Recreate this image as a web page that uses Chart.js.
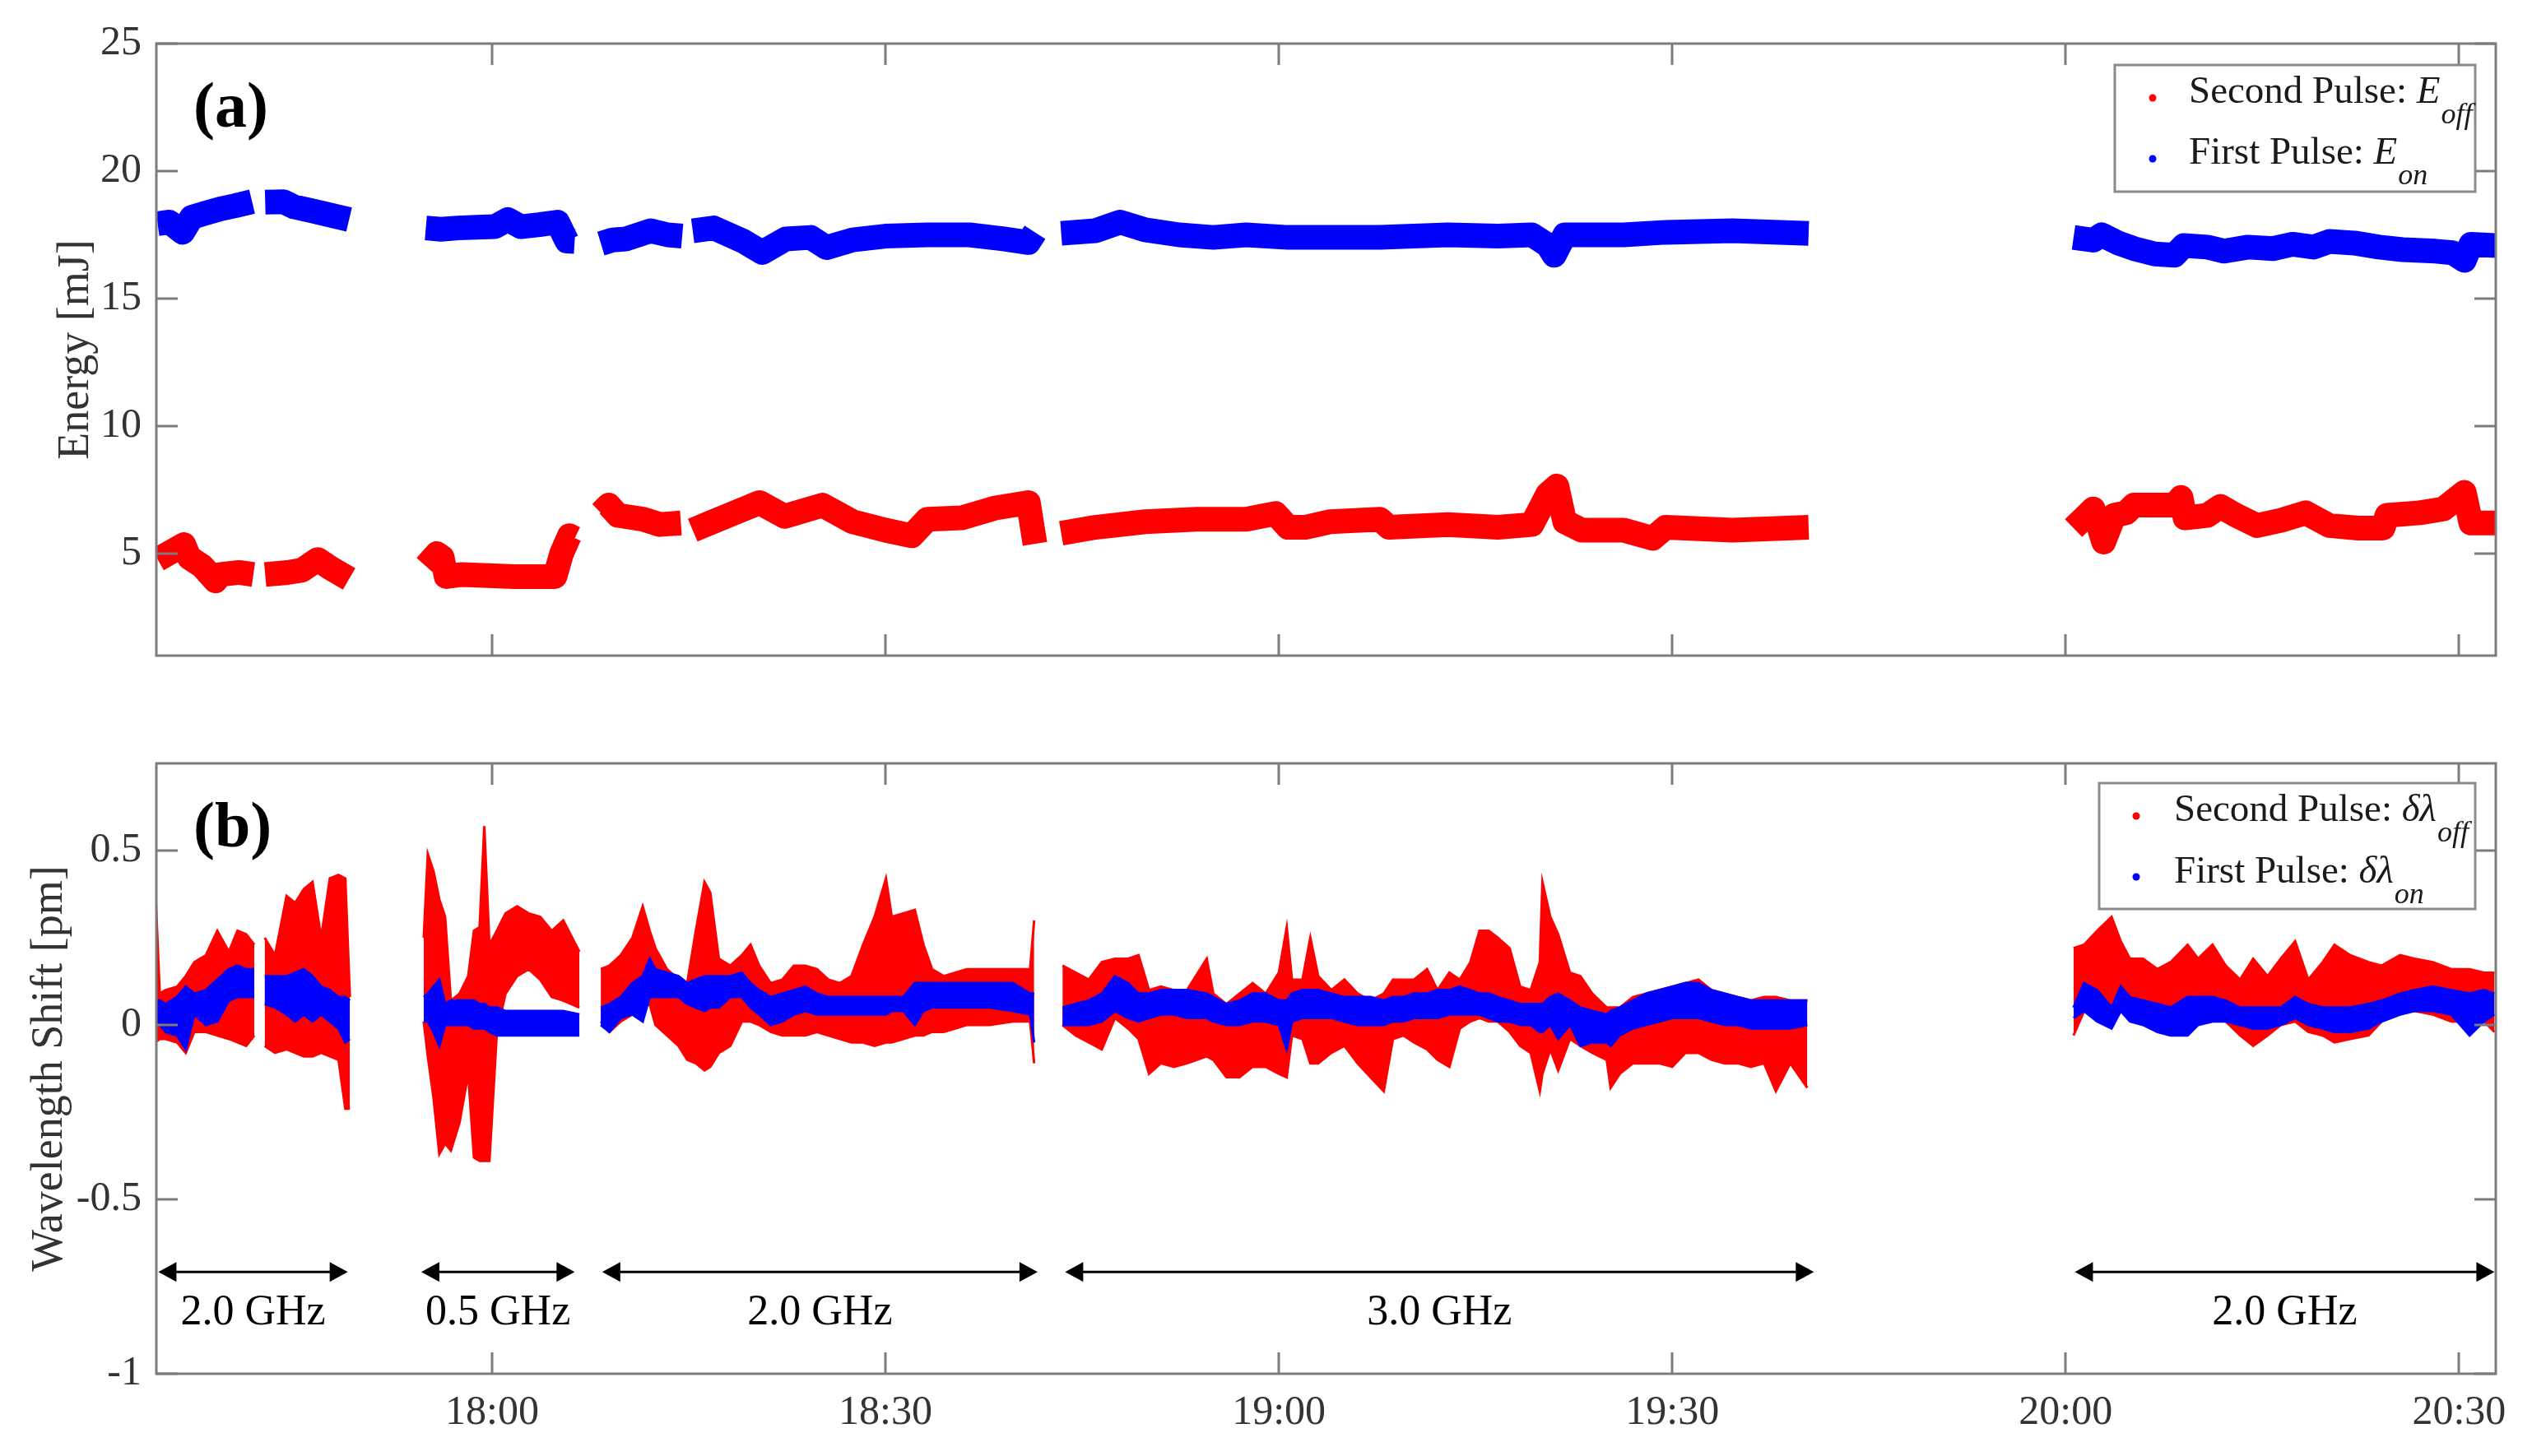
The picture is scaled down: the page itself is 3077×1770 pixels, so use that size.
<!DOCTYPE html>
<html>
<head>
<meta charset="utf-8">
<script src="https://cdn.jsdelivr.net/npm/chart.js@4/dist/chart.umd.min.js"></script>
<style>
  html, body { margin: 0; padding: 0; background: #fff; }
  #wrap { position: relative; width: 3077px; height: 1770px; }
  #energy { position: absolute; left: 0; top: 0; }
  #shift { position: absolute; left: 0; top: 860px; }
</style>
</head>
<body>
<div id="wrap">
  <canvas id="energy" width="3077" height="860"></canvas>
  <canvas id="shift" width="3077" height="910"></canvas>
</div>
<script>
// time axis in minutes after midnight (18:00 = 1080)
const timeMin = 1054.4;
const timeMax = 1232.8;
const timeTicks = [1080, 1110, 1140, 1170, 1200, 1230];
const energyTicks = [5, 10, 15, 20, 25];
const shiftTicks = [-1, -0.5, 0, 0.5];

// panel (a): pulse energy, null = gap between runs
const offEnergyTime = [
  1054.5, 1055.9, 1056.5, 1056.9, 1057.9, 1058.9, 1059.3, 1060.7, 1061.8, 1062.2,
  1062.7, 1064.4, 1065.5, 1066.7, 1067.7, 1069.1, 1072,
  1074.95, 1075.8, 1076.2, 1076.5, 1077.7, 1081.7, 1084.8, 1085.3, 1085.9, 1086.3, 1087.3,
  1088.3, 1088.9, 1089.6, 1091.5, 1092.8, 1094.4, 1094.75,
  1095.3, 1096.6, 1098.5, 1100.4, 1102.3, 1105.2, 1107.5, 1110.0, 1112.0, 1113.2, 1115.8, 1118.3, 1120.9, 1121.4, 1122.4,
  1123.4, 1126.0, 1129.8, 1133.7, 1137.5, 1139.75, 1140.7, 1142.0, 1143.9, 1147.7, 1148.4, 1152.9, 1156.7, 1159.3,
  1160.5, 1161.2, 1161.8, 1163.1, 1166.3, 1168.5, 1169.5, 1174.6, 1180.4, 1190,
  1200.6, 1201.2, 1202.1, 1202.9, 1203.7, 1204.6, 1205.2, 1208.3, 1208.8, 1209.1, 1210.8, 1211.8, 1213.0,
  1214.6, 1216.4, 1218.3, 1220.1, 1222.3, 1224.2, 1224.5, 1227.0, 1228.8, 1230.4, 1230.9, 1232.9
];
const offEnergy = [
  4.77, 5.18, 5.35, 4.85, 4.51, 3.93, 4.18, 4.26, 4.18, null,
  4.18, 4.26, 4.35, 4.77, 4.43, 4.01, null,
  4.51, 5.0, 4.85, 4.1, 4.18, 4.1, 4.1, 5.0, 5.7, 5.6, null,
  6.6, 6.9, 6.5, 6.35, 6.14, 6.2, null,
  5.92, 6.2, 6.6, 7.0, 6.46, 6.9, 6.25, 5.92, 5.7, 6.35, 6.4, 6.78, 7.0, 5.38, null,
  5.8, 6.03, 6.25, 6.35, 6.35, 6.57, 6.03, 6.03, 6.25, 6.35, 6.03, 6.14, 6.03, 6.14,
  7.33, 7.65, 6.25, 5.92, 5.92, 5.6, 6.03, 5.92, 6.03, null,
  6.0, 6.3, 6.75, 5.45, 6.5, 6.6, 6.9, 6.9, 7.2, 6.4, 6.5, 6.85, 6.5,
  6.1, 6.3, 6.6, 6.1, 6.0, 6.0, 6.5, 6.6, 6.75, 7.4, 6.2, 6.2
];
const onEnergyTime = [
  1054.5, 1055.4, 1056.4, 1057.1, 1058.2, 1059.3, 1060.4, 1061.7, 1062.2,
  1062.7, 1064.1, 1064.9, 1066.3, 1067.7, 1069.1, 1072,
  1074.95, 1076.1, 1077.4, 1078.8, 1080.2, 1081.2, 1082.2, 1083.6, 1085.0, 1085.7, 1086.3, 1087.3,
  1088.3, 1089.2, 1090.2, 1092.1, 1093.4, 1094.5, 1094.8,
  1095.3, 1096.9, 1099.2, 1100.6, 1102.4, 1104.3, 1105.5, 1107.5, 1110.0, 1113.2, 1116.4, 1119.0, 1120.9, 1121.4, 1122.4,
  1123.4, 1126.0, 1127.9, 1129.8, 1132.4, 1135.0, 1137.5, 1140.7, 1143.9, 1147.7, 1152.9, 1156.7, 1159.3,
  1160.5, 1161.0, 1161.8, 1166.3, 1169.5, 1174.6, 1180.4, 1190,
  1200.6, 1202.1, 1202.75, 1204.0, 1205.2, 1206.8, 1208.3, 1209.0, 1210.8, 1212.1, 1213.9, 1215.8,
  1217.3, 1218.9, 1220.1, 1222.0, 1223.9, 1225.7, 1228.2, 1229.5, 1230.4, 1230.9, 1232.9
];
const onEnergy = [
  17.94, 18.0, 17.6, 18.19, 18.36, 18.52, 18.64, 18.8, null,
  18.78, 18.8, 18.6, 18.44, 18.27, 18.1, null,
  17.77, 17.72, 17.77, 17.8, 17.82, 18.1, 17.82, 17.9, 18.0, 17.26, 17.24, null,
  17.16, 17.3, 17.34, 17.66, 17.5, 17.45, null,
  17.66, 17.77, 17.24, 16.81, 17.34, 17.4, 17.0, 17.3, 17.45, 17.5, 17.5, 17.34, 17.2, 17.6, null,
  17.56, 17.66, 18.0, 17.7, 17.5, 17.4, 17.5, 17.4, 17.4, 17.4, 17.5, 17.45, 17.5,
  17.1, 16.7, 17.5, 17.5, 17.6, 17.66, 17.56, null,
  17.4, 17.29, 17.5, 17.18, 16.96, 16.75, 16.7, 17.08, 17.02, 16.86, 17.02, 16.96,
  17.13, 17.02, 17.24, 17.18, 17.02, 16.92, 16.86, 16.8, 16.5, 17.13, 17.08
];

// panel (b): wavelength shift, lower / upper edge of each scatter band
const shiftTime = [
  1054.31, 1054.66, 1055.10, 1055.98, 1056.64, 1057.30, 1058.18, 1059.05, 1059.93, 1060.59, 1061.25, 1061.87, 1062.2,
  1062.66, 1063.45, 1064.33, 1064.99, 1065.65, 1066.31, 1066.97, 1067.63, 1068.29, 1068.81, 1069.16, 1072,
  1074.79, 1075.10, 1075.54, 1075.98, 1076.42, 1076.86, 1077.52, 1078.18, 1078.62, 1079.05, 1079.41, 1079.80,
  1080.37, 1081.03, 1081.91, 1082.79, 1083.67, 1084.55, 1085.43, 1086.66, 1087.3,
  1088.29, 1088.95, 1089.82, 1090.70, 1091.49, 1092.02, 1092.46, 1093.34, 1094.22, 1094.88, 1095.54, 1096.20,
  1096.64, 1097.30, 1098.17, 1099.05, 1099.71, 1100.37, 1101.25, 1102.13, 1103.01, 1103.89, 1104.77, 1105.65,
  1106.53, 1107.41, 1108.29, 1109.17, 1110.04, 1110.48, 1111.36, 1112.24, 1112.90, 1113.56, 1114.44, 1116.20,
  1117.96, 1119.71, 1121.03, 1121.34, 1122.4,
  1123.5, 1124.5, 1125.5, 1126.5, 1127.5, 1128.5, 1129.3, 1130.1, 1131, 1132, 1133, 1134.5, 1135, 1136, 1137,
  1138, 1139, 1140, 1140.6, 1141, 1141.8, 1142.4, 1143, 1144, 1145, 1146, 1147, 1148, 1148.7, 1149.5, 1150.3,
  1151.3, 1152.1, 1153, 1153.8, 1154.6, 1155.3, 1156, 1156.7, 1157.6, 1158.4, 1159.2, 1159.9, 1160.1, 1160.7,
  1161.3, 1162.2, 1163, 1163.9, 1165, 1165.3, 1166, 1167, 1168, 1169, 1170, 1171, 1172, 1173, 1174, 1175,
  1176, 1177, 1177.9, 1179, 1180.3, 1190,
  1200.6, 1201.4, 1202.4, 1203.5, 1204.2, 1204.9, 1205.9, 1207.0, 1208.0, 1209.3, 1210.1, 1211.2, 1212.2,
  1213.3, 1214.3, 1215.4, 1216.4, 1217.5, 1218.5, 1219.6, 1220.5, 1221.7, 1223.1, 1224.1, 1225.5, 1226.6,
  1228.0, 1229.4, 1230.8, 1231.9, 1232.7
];
const offShiftLow = [
  -0.05, -0.04, -0.04, -0.05, -0.08, -0.02, -0.02, -0.03, -0.04, -0.05, -0.06, -0.03, null,
  -0.06, -0.08, -0.07, -0.08, -0.09, -0.09, -0.08, -0.09, -0.10, -0.24, -0.24, null,
  0.01, -0.09, -0.21, -0.37, -0.34, -0.36, -0.28, -0.14, -0.38, -0.39, -0.39, -0.39,
  -0.02, 0.09, 0.14, 0.16, 0.13, 0.08, 0.07, 0.05, null,
  0.01, -0.02, 0.01, 0.03, 0.05, 0.06, 0.0, -0.03, -0.06, -0.10, -0.11, -0.13,
  -0.12, -0.08, -0.06, 0.01, 0.01, 0.0, -0.02, -0.03, -0.03, -0.03, -0.02, -0.03,
  -0.04, -0.05, -0.05, -0.06, -0.05, -0.05, -0.04, -0.03, -0.03, -0.02, -0.02, 0.0,
  0.0, 0.01, 0.01, -0.11, null,
  0.0, -0.03, -0.05, -0.07, 0.02, -0.01, -0.04, -0.14, -0.11, -0.12, -0.11, -0.09, -0.10, -0.15, -0.15,
  -0.12, -0.12, -0.14, -0.15, -0.03, -0.04, -0.11, -0.11, -0.08, -0.06, -0.11, -0.15, -0.19, -0.04, -0.03, -0.05,
  -0.07, -0.10, -0.12, -0.01, 0.01, 0.02, 0.01, 0.01, -0.02, -0.06, -0.08, -0.19, -0.14, -0.07,
  -0.13, -0.04, -0.06, -0.08, -0.10, -0.18, -0.14, -0.11, -0.11, -0.11, -0.12, -0.08, -0.08, -0.10, -0.11, -0.11,
  -0.12, -0.11, -0.19, -0.11, -0.18, null,
  -0.03, 0.04, 0.05, 0.05, 0.05, 0.04, 0.04, 0.03, 0.03, 0.04, 0.04, 0.04, 0.01,
  -0.03, -0.06, -0.03, 0.0, 0.01, -0.02, -0.03, -0.05, -0.04, -0.03, 0.01, 0.04, 0.04,
  0.03, 0.01, 0.01, 0.01, -0.02
];
const offShiftHigh = [
  0.40, 0.09, 0.10, 0.11, 0.14, 0.18, 0.20, 0.27, 0.21, 0.27, 0.26, 0.23, null,
  0.25, 0.20, 0.37, 0.35, 0.39, 0.41, 0.25, 0.42, 0.43, 0.42, 0.08, null,
  0.25, 0.49, 0.44, 0.36, 0.31, 0.07, 0.09, 0.14, 0.27, 0.28, 0.57, 0.23,
  0.27, 0.32, 0.34, 0.32, 0.31, 0.27, 0.30, 0.21, null,
  0.16, 0.17, 0.20, 0.25, 0.34, 0.27, 0.22, 0.16, 0.13, 0.12, 0.27, 0.41,
  0.38, 0.19, 0.17, 0.20, 0.23, 0.17, 0.12, 0.13, 0.17, 0.17, 0.16, 0.13,
  0.12, 0.14, 0.23, 0.31, 0.42, 0.31, 0.32, 0.33, 0.23, 0.16, 0.14, 0.16,
  0.16, 0.16, 0.16, 0.30, null,
  0.17, 0.15, 0.13, 0.18, 0.19, 0.19, 0.20, 0.10, 0.11, 0.10, 0.10, 0.19, 0.09, 0.06, 0.09,
  0.12, 0.09, 0.15, 0.28, 0.13, 0.13, 0.25, 0.14, 0.10, 0.13, 0.09, 0.07, 0.09, 0.13, 0.13, 0.13,
  0.16, 0.10, 0.15, 0.13, 0.18, 0.27, 0.27, 0.25, 0.22, 0.11, 0.10, 0.18, 0.41, 0.31,
  0.26, 0.15, 0.14, 0.09, 0.05, 0.05, 0.05, 0.08, 0.09, 0.10, 0.11, 0.12, 0.13, 0.10, 0.09, 0.08,
  0.07, 0.08, 0.08, 0.07, 0.07, null,
  0.22, 0.23, 0.27, 0.31, 0.24, 0.19, 0.19, 0.16, 0.18, 0.23, 0.19, 0.23, 0.17,
  0.13, 0.19, 0.14, 0.19, 0.24, 0.13, 0.18, 0.23, 0.20, 0.18, 0.17, 0.20, 0.19,
  0.18, 0.16, 0.16, 0.15, 0.15
];
const onShiftLow = [
  0.01, 0.0, -0.02, -0.03, -0.07, 0.03, 0.0, 0.01, 0.07, 0.08, 0.08, 0.08, null,
  0.06, 0.05, 0.03, 0.01, 0.03, 0.01, 0.03, 0.01, -0.01, -0.05, -0.04, null,
  0.01, 0.01, -0.02, -0.06, 0.0, 0.0, 0.0, 0.0, -0.01, -0.01, -0.01, -0.02,
  -0.03, -0.03, -0.03, -0.03, -0.03, -0.03, -0.03, -0.03, null,
  0.0, -0.02, 0.02, 0.03, 0.01, 0.08, 0.08, 0.08, 0.08, 0.06, 0.05, 0.04,
  0.05, 0.05, 0.08, 0.08, 0.05, 0.03, 0.0, 0.01, 0.03, 0.04, 0.03, 0.03,
  0.03, 0.03, 0.03, 0.03, 0.03, 0.04, 0.04, 0.0, 0.04, 0.05, 0.05, 0.05,
  0.05, 0.04, 0.03, -0.05, null,
  0.0, 0.0, 0.0, 0.01, 0.04, 0.02, 0.01, 0.02, 0.03, 0.03, 0.02, 0.02, 0.01, 0.0, 0.0,
  0.01, 0.01, 0.0, -0.07, 0.01, 0.02, 0.02, 0.02, 0.02, 0.01, 0.0, 0.0, 0.0, 0.01, 0.01, 0.02,
  0.02, 0.02, 0.03, 0.03, 0.03, 0.03, 0.02, 0.01, 0.01, 0.0, 0.0, -0.02, -0.02, 0.0,
  -0.04, 0.0, -0.06, -0.05, -0.05, -0.06, -0.03, -0.01, 0.0, 0.01, 0.02, 0.02, 0.02, 0.01, 0.0, 0.0,
  -0.01, -0.01, -0.01, -0.01, 0.0, null,
  0.02, 0.04, 0.01, -0.01, 0.04, 0.01, 0.0, -0.02, -0.03, -0.03, 0.0, 0.01, 0.01,
  0.0, -0.01, -0.01, 0.0, 0.02, 0.0, -0.01, -0.02, -0.02, -0.01, 0.01, 0.03, 0.04,
  0.04, 0.03, -0.03, 0.01, 0.03
];
const onShiftHigh = [
  0.07, 0.07, 0.06, 0.08, 0.11, 0.09, 0.10, 0.13, 0.16, 0.17, 0.16, 0.16, null,
  0.14, 0.14, 0.14, 0.15, 0.16, 0.14, 0.11, 0.10, 0.08, 0.08, 0.07, null,
  0.08, 0.09, 0.11, 0.13, 0.06, 0.07, 0.07, 0.07, 0.07, 0.06, 0.06, 0.05,
  0.05, 0.04, 0.04, 0.04, 0.04, 0.04, 0.04, 0.03, null,
  0.05, 0.06, 0.08, 0.12, 0.14, 0.19, 0.16, 0.15, 0.14, 0.12, 0.13, 0.14,
  0.14, 0.14, 0.14, 0.15, 0.12, 0.10, 0.08, 0.09, 0.10, 0.11, 0.09, 0.08,
  0.08, 0.08, 0.08, 0.08, 0.08, 0.08, 0.08, 0.12, 0.12, 0.12, 0.12, 0.12,
  0.12, 0.12, 0.09, 0.09, null,
  0.05, 0.06, 0.07, 0.09, 0.14, 0.12, 0.09, 0.09, 0.10, 0.10, 0.10, 0.09, 0.08, 0.06, 0.07,
  0.09, 0.09, 0.07, 0.07, 0.09, 0.10, 0.10, 0.10, 0.09, 0.08, 0.08, 0.08, 0.07, 0.08, 0.08, 0.09,
  0.09, 0.10, 0.10, 0.11, 0.10, 0.09, 0.09, 0.08, 0.07, 0.06, 0.06, 0.06, 0.06, 0.08,
  0.09, 0.07, 0.05, 0.04, 0.03, 0.04, 0.05, 0.07, 0.09, 0.10, 0.11, 0.12, 0.12, 0.10, 0.09, 0.08,
  0.07, 0.07, 0.07, 0.07, 0.07, null,
  0.05, 0.12, 0.10, 0.05, 0.11, 0.08, 0.07, 0.06, 0.05, 0.08, 0.08, 0.08, 0.07,
  0.05, 0.05, 0.05, 0.05, 0.08, 0.06, 0.05, 0.05, 0.05, 0.06, 0.07, 0.09, 0.10,
  0.11, 0.10, 0.09, 0.10, 0.09
];

// seeder frequency runs marked under panel (b)
const runStart = [1054.55, 1074.6, 1088.4, 1123.7, 1200.7];
const runEnd = [1069.0, 1086.3, 1121.6, 1180.8, 1232.7];
const runLabel = ['2.0 GHz', '0.5 GHz', '2.0 GHz', '3.0 GHz', '2.0 GHz'];
const runArrowLevel = -0.708;
const runLabelLevel = -0.826;

const RED = '#ff0000';
const BLUE = '#0000ff';
const SERIF = '"Liberation Serif", "Times New Roman", serif';
const AXIS_GREY = '#7c7c7c';
const TEXT_GREY = '#333333';
const TICK_LEN = 26;

function points(times, values) {
  return times.map((t, i) => ({ x: t, y: values[i] }));
}

function clock(v) {
  const h = Math.floor(v / 60);
  const m = Math.round(v - h * 60);
  return h + ':' + String(m).padStart(2, '0');
}

// MATLAB-like box with inward ticks, panel letter, legend and run arrows
const framePlugin = {
  id: 'frame',
  afterDatasetsDraw(chart, args, opts) {
    const { ctx, chartArea: a, scales: { x, y } } = chart;
    ctx.save();

    ctx.strokeStyle = AXIS_GREY;
    ctx.lineWidth = 3;
    ctx.beginPath();
    timeTicks.forEach(v => {
      const px = Math.round(x.getPixelForValue(v));
      ctx.moveTo(px, a.bottom); ctx.lineTo(px, a.bottom - TICK_LEN);
      ctx.moveTo(px, a.top); ctx.lineTo(px, a.top + TICK_LEN);
    });
    opts.yTicks.forEach(v => {
      const py = Math.round(y.getPixelForValue(v));
      ctx.moveTo(a.left, py); ctx.lineTo(a.left + TICK_LEN, py);
      ctx.moveTo(a.right, py); ctx.lineTo(a.right - TICK_LEN, py);
    });
    ctx.stroke();
    ctx.strokeRect(a.left, a.top, a.right - a.left, a.bottom - a.top);

    // panel letter
    ctx.fillStyle = '#000';
    ctx.font = 'bold 78px ' + SERIF;
    ctx.textAlign = 'left';
    ctx.textBaseline = 'middle';
    ctx.fillText(opts.letter, a.left + 45, a.top + 81);

    // run arrows
    if (opts.arrows) {
      const ay = y.getPixelForValue(runArrowLevel);
      const ly = y.getPixelForValue(runLabelLevel);
      ctx.strokeStyle = '#000';
      ctx.lineWidth = 3;
      runStart.forEach((s, i) => {
        const x0 = x.getPixelForValue(s);
        const x1 = x.getPixelForValue(runEnd[i]);
        ctx.beginPath();
        ctx.moveTo(x0 + 10, ay); ctx.lineTo(x1 - 10, ay);
        ctx.stroke();
        ctx.beginPath();
        ctx.moveTo(x0, ay); ctx.lineTo(x0 + 22, ay - 12); ctx.lineTo(x0 + 22, ay + 12); ctx.closePath();
        ctx.moveTo(x1, ay); ctx.lineTo(x1 - 22, ay - 12); ctx.lineTo(x1 - 22, ay + 12); ctx.closePath();
        ctx.fill();
        ctx.font = '52px ' + SERIF;
        ctx.textAlign = 'center';
        ctx.textBaseline = 'middle';
        ctx.fillText(runLabel[i], (x0 + x1) / 2, ly);
      });
    }

    // legend
    const lg = opts.legend;
    ctx.fillStyle = '#fff';
    ctx.fillRect(lg.box[0], lg.box[1], lg.box[2] - lg.box[0], lg.box[3] - lg.box[1]);
    ctx.strokeStyle = '#8a8a8a';
    ctx.lineWidth = 3;
    ctx.strokeRect(lg.box[0], lg.box[1], lg.box[2] - lg.box[0], lg.box[3] - lg.box[1]);
    lg.rows.forEach((row, i) => {
      const ds = chart.data.datasets[row.dataset];
      ctx.fillStyle = ds.borderColor;
      ctx.beginPath();
      ctx.arc(lg.dotX, lg.dotY[i], 4.5, 0, Math.PI * 2);
      ctx.fill();
      ctx.fillStyle = '#1a1a1a';
      ctx.textAlign = 'left';
      ctx.textBaseline = 'alphabetic';
      let tx = lg.textX;
      const base = lg.baseY[i];
      ctx.font = '47px ' + SERIF;
      ctx.fillText(row.label, tx, base);
      tx += ctx.measureText(row.label).width;
      ctx.font = 'italic 47px ' + SERIF;
      ctx.fillText(lg.symbol, tx, base);
      tx += ctx.measureText(lg.symbol).width + 1;
      ctx.font = 'italic 36px ' + SERIF;
      ctx.fillText(row.sub, tx, base + 25);
    });

    ctx.restore();
  }
};

const tickFont = { family: SERIF, size: 50 };
const titleFont = { family: SERIF, size: 54 };

function yAxis(min, max, ticks, title, titlePad) {
  return {
    type: 'linear', min: min, max: max,
    afterBuildTicks: s => { s.ticks = ticks.map(v => ({ value: v })); },
    afterFit: s => { s.width = 190; },
    grid: { display: false, drawTicks: false },
    border: { display: false },
    ticks: { padding: 18, color: TEXT_GREY, font: tickFont, callback: v => String(v) },
    title: { display: true, text: title, color: TEXT_GREY, font: titleFont, padding: { top: titlePad, bottom: 0 } }
  };
}

new Chart(document.getElementById('energy'), {
  type: 'line',
  data: {
    datasets: [
      { label: 'Second Pulse: E_off', data: points(offEnergyTime, offEnergy), borderColor: RED, backgroundColor: RED,
        borderWidth: 30, pointRadius: 0, borderJoinStyle: 'round', tension: 0 },
      { label: 'First Pulse: E_on', data: points(onEnergyTime, onEnergy), borderColor: BLUE, backgroundColor: BLUE,
        borderWidth: 30, pointRadius: 0, borderJoinStyle: 'round', tension: 0 }
    ]
  },
  options: {
    responsive: false, animation: false, devicePixelRatio: 1,
    layout: { padding: { top: 53, right: 44, bottom: 63, left: 0 } },
    plugins: {
      legend: { display: false }, tooltip: { enabled: false },
      frame: {
        yTicks: energyTicks, letter: '(a)', arrows: false,
        legend: {
          box: [2570, 79, 3008, 233], dotX: 2616, dotY: [119, 193], textX: 2660, baseY: [125, 199],
          symbol: 'E', rows: [{ dataset: 0, label: 'Second Pulse: ', sub: 'off' }, { dataset: 1, label: 'First Pulse: ', sub: 'on' }]
        }
      }
    },
    scales: {
      x: { type: 'linear', min: timeMin, max: timeMax, display: false },
      y: yAxis(1, 25, energyTicks, 'Energy [mJ]', 60)
    }
  },
  plugins: [framePlugin]
});

const band = (label, times, values, color, fill) => ({
  label: label, data: points(times, values), borderColor: color, backgroundColor: color,
  borderWidth: 3, pointRadius: 0, tension: 0, fill: fill
});

new Chart(document.getElementById('shift'), {
  type: 'line',
  data: {
    datasets: [
      band('First Pulse low', shiftTime, onShiftLow, BLUE, false),
      band('First Pulse high', shiftTime, onShiftHigh, BLUE, '-1'),
      band('Second Pulse low', shiftTime, offShiftLow, RED, false),
      band('Second Pulse high', shiftTime, offShiftHigh, RED, '-1')
    ]
  },
  options: {
    responsive: false, animation: false, devicePixelRatio: 1,
    layout: { padding: { top: 68, right: 44, bottom: 0, left: 0 } },
    plugins: {
      legend: { display: false }, tooltip: { enabled: false },
      frame: {
        yTicks: shiftTicks, letter: '(b)', arrows: true,
        legend: {
          box: [2551, 92, 3008, 245], dotX: 2596, dotY: [132, 206], textX: 2642, baseY: [138, 213],
          symbol: '\u03b4\u03bb', rows: [{ dataset: 2, label: 'Second Pulse: ', sub: 'off' }, { dataset: 0, label: 'First Pulse: ', sub: 'on' }]
        }
      }
    },
    scales: {
      x: {
        type: 'linear', min: timeMin, max: timeMax,
        afterBuildTicks: s => { s.ticks = timeTicks.map(v => ({ value: v })); },
        afterFit: s => { s.height = 100; },
        grid: { display: false, drawTicks: false },
        border: { display: false },
        ticks: { padding: 18, color: TEXT_GREY, font: tickFont, maxRotation: 0, autoSkip: false, callback: v => clock(v) }
      },
      y: yAxis(-1, 0.75, shiftTicks, 'Wavelength Shift [pm]', 28)
    }
  },
  plugins: [framePlugin]
});
</script>
</body>
</html>
